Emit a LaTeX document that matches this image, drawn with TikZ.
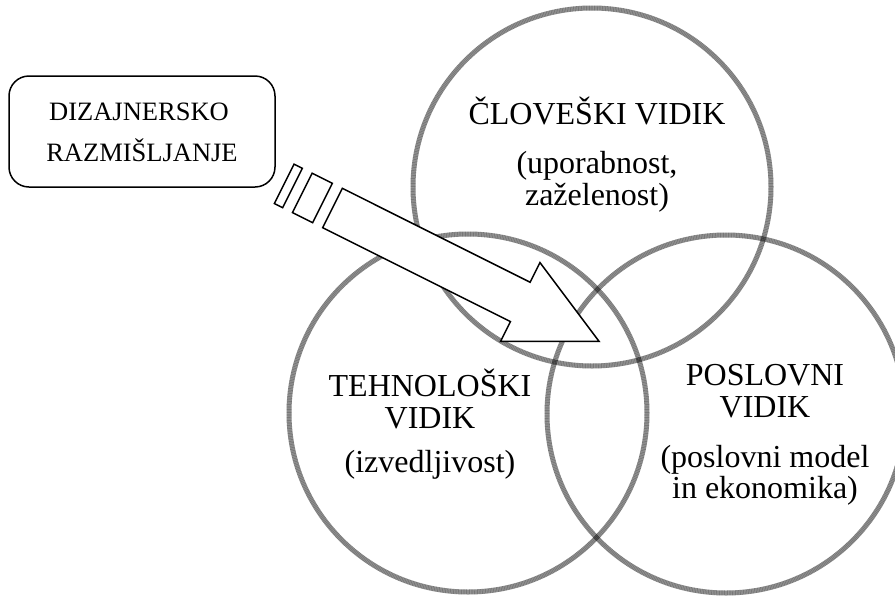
\documentclass[tikz,border=0pt]{standalone}
\usepackage{fontspec}
\setmainfont{Liberation Serif}
\begin{document}
\begin{tikzpicture}[x=1pt,y=-1pt,
  ring/.style={circle, draw=black, draw opacity=0.40, line width=5pt,
               minimum size=358pt, inner sep=0pt},
  ringgrain/.style={circle, draw=black, draw opacity=0.22, line width=5pt,
               dash pattern=on 0.8pt off 0.8pt,
               minimum size=358pt, inner sep=0pt},
  bigtext/.style={font=\fontsize{32}{36}\selectfont, anchor=base, inner sep=0pt},
  boxtext/.style={font=\fontsize{26.5}{30}\selectfont, anchor=base, inner sep=0pt},
  blockarrow/.style={draw=black, fill=white, line width=1.5pt, line join=miter},
  roundbox/.style={draw=black, line width=1.5pt, rounded corners=20pt,
                   minimum width=266pt, minimum height=111pt, inner sep=0pt},
]
\useasboundingbox (0,0) rectangle (895,595);

% the three overlapping aspects (grey outline with a fine grain on top)
\node[ring] (human) at (592,187) {};
\node[ring] (tech)  at (468,413) {};
\node[ring] (biz)   at (726,414) {};
\node[ringgrain] (humanG) at (human.center) {};
\node[ringgrain] (techG)  at (tech.center) {};
\node[ringgrain] (bizG)   at (biz.center) {};

% labels inside the circles
\node[bigtext] (humT)  at (597,124) {ČLOVEŠKI VIDIK};
\node[bigtext] (humS1) at (597,173) {(uporabnost,};
\node[bigtext] (humS2) at (597,205) {zaželenost)};

\node[bigtext] (techT)  at (430,396) {TEHNOLOŠKI};
\node[bigtext] (techT2) at (430,428) {VIDIK};
\node[bigtext] (techS)  at (430,472) {(izvedljivost)};

\node[bigtext] (bizT)  at (765,385) {POSLOVNI};
\node[bigtext] (bizT2) at (765,417) {VIDIK};
\node[bigtext] (bizS1) at (765,467) {(poslovni model};
\node[bigtext] (bizS2) at (765,498) {in ekonomika)};

% striped block arrow pointing into the overlap
\begin{scope}[shift={(332.5,208)}, rotate=-26.57]
  \draw[blockarrow] (0,-22) -- (210,-22) -- (210,-44) -- (298,0)
                    -- (210,44) -- (210,22) -- (0,22) -- cycle;
  \draw[blockarrow] (-33.8,-22) rectangle (-11.2,22);
  \draw[blockarrow] (-54,-22) rectangle (-44.7,22);
\end{scope}

% design thinking box
\node[roundbox] (dt) at (142,131.5) {};
\node[boxtext] (dt1) at (139,120) {DIZAJNERSKO};
\node[boxtext] (dt2) at (142,161) {RAZMIŠLJANJE};
\end{tikzpicture}
\end{document}
